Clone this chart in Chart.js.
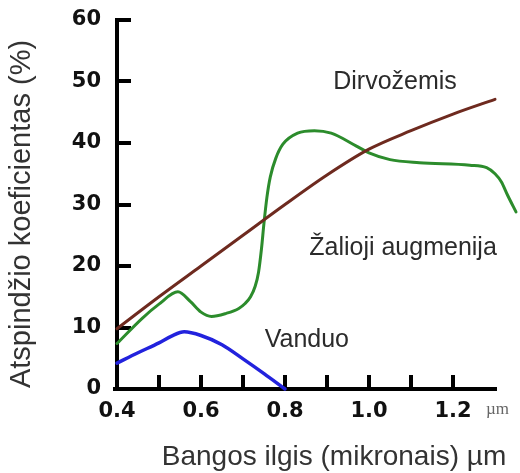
<!DOCTYPE html>
<html>
<head>
<meta charset="utf-8">
<script src="https://cdn.jsdelivr.net/npm/chart.js@4.4.1/dist/chart.umd.min.js"></script>
<style>
  html, body { margin: 0; padding: 0; background: #fff; }
  #wrap { width: 520px; height: 473px; }
</style>
</head>
<body>
<div id="wrap"><canvas id="chart" width="520" height="473"></canvas></div>
<script>
// wavelength (um) -> reflectance (%)
const soilX = [0.40, 0.50, 0.60, 0.70, 0.80, 0.90, 1.00, 1.10, 1.20, 1.30];
const soilY = [9.8, 15.0, 20.0, 25.0, 30.0, 34.8, 39.0, 42.0, 44.7, 47.1];

const vegX = [0.40, 0.46, 0.50, 0.545, 0.575, 0.60, 0.625, 0.66, 0.69, 0.705, 0.718, 0.729, 0.737, 0.744, 0.75, 0.757, 0.765, 0.778, 0.795, 0.83, 0.87, 0.91, 0.97, 1.00, 1.05, 1.12, 1.24, 1.28, 1.30, 1.315, 1.33, 1.35];
const vegY = [7.4, 11.5, 13.8, 15.8, 14.2, 12.5, 11.8, 12.3, 13.1, 13.9, 15.0, 16.7, 19.0, 22.8, 27.0, 31.2, 34.5, 37.5, 39.8, 41.6, 42.0, 41.6, 39.5, 38.4, 37.3, 36.8, 36.4, 36.0, 35.0, 33.7, 31.5, 28.8];

const waterX = [0.40, 0.45, 0.50, 0.53, 0.56, 0.60, 0.65, 0.70, 0.75, 0.80];
const waterY = [4.2, 5.9, 7.5, 8.6, 9.3, 8.7, 7.2, 4.9, 2.5, 0];

const seriesNames = ['Dirvožemis', 'Žalioji augmenija', 'Vanduo'];
const xTickLabels = ['0.4', '0.6', '0.8', '1.0', '1.2'];
const xAxisEnd = 1.3;
const xTitle = 'Bangos ilgis (mikronais) µm';
const yTitle = 'Atspindžio koeficientas (%)';

// where the curve names sit (data coords)
const nameX = [1.062, 1.081, 0.852];
const nameY = [49.9, 22.9, 8.0];

function toPoints(xs, ys) {
  return xs.map((x, i) => ({ x: x, y: ys[i] }));
}

// axis lines and inward tick marks
const axisTicks = {
  id: 'axisTicks',
  beforeDatasetsDraw(chart) {
    const { ctx, chartArea, scales } = chart;
    const x = scales.x, y = scales.y;
    const left = Math.round(chartArea.left);
    const bottom = Math.round(chartArea.bottom);
    const xEnd = Math.round(x.getPixelForValue(xAxisEnd));
    ctx.save();
    ctx.strokeStyle = '#000';
    ctx.lineWidth = 4;
    ctx.beginPath();
    ctx.moveTo(left, Math.round(chartArea.top) - 2);
    ctx.lineTo(left, bottom);
    ctx.moveTo(left - 4, bottom);
    ctx.lineTo(xEnd + 2, bottom);
    ctx.stroke();
    y.ticks.forEach(t => {
      if (t.value <= y.min) return;
      const py = Math.round(y.getPixelForValue(t.value));
      ctx.beginPath();
      ctx.moveTo(left, py);
      ctx.lineTo(left + 14, py);
      ctx.stroke();
    });
    x.ticks.forEach(t => {
      if (t.value <= x.min + 1e-6 || t.value > xAxisEnd + 1e-6) return;
      const px = Math.round(x.getPixelForValue(t.value));
      ctx.beginPath();
      ctx.moveTo(px, bottom);
      ctx.lineTo(px, bottom - 14);
      ctx.stroke();
    });
    ctx.restore();
  }
};

const textLayer = {
  id: 'textLayer',
  afterDraw(chart) {
    const { ctx, scales } = chart;
    ctx.save();
    ctx.fillStyle = '#2b2b2b';
    ctx.textAlign = 'center';
    ctx.textBaseline = 'middle';
    ctx.font = '25px "Liberation Sans", Arial, sans-serif';
    seriesNames.forEach((n, i) => {
      ctx.fillText(n, scales.x.getPixelForValue(nameX[i]), scales.y.getPixelForValue(nameY[i]));
    });

    ctx.fillStyle = '#333';
    ctx.font = '28px "Liberation Sans", Arial, sans-serif';
    ctx.fillText(xTitle, 334, 457);

    ctx.save();
    ctx.translate(22, 214);
    ctx.rotate(-Math.PI / 2);
    ctx.font = '29px "Liberation Sans", Arial, sans-serif';
    ctx.fillText(yTitle, 0, 0);
    ctx.restore();

    ctx.font = '17px "Liberation Serif", serif';
    ctx.fillStyle = '#666';
    ctx.textAlign = 'left';
    ctx.fillText('µm', 486, 410);
    ctx.restore();
  }
};

const ctx = document.getElementById('chart');

new Chart(ctx, {
  type: 'line',
  data: {
    datasets: [
      {
        label: seriesNames[0],
        data: toPoints(soilX, soilY),
        borderColor: '#6e2a1f',
        borderWidth: 3
      },
      {
        label: seriesNames[1],
        data: toPoints(vegX, vegY),
        borderColor: '#2c8c2c',
        borderWidth: 3
      },
      {
        label: seriesNames[2],
        data: toPoints(waterX, waterY),
        borderColor: '#2222dd',
        borderWidth: 3.5
      }
    ]
  },
  options: {
    responsive: false,
    animation: false,
    devicePixelRatio: 1,
    layout: {
      padding: { left: 0, top: 20, right: 4, bottom: 0 }
    },
    elements: {
      point: { radius: 0 },
      line: { cubicInterpolationMode: 'monotone', fill: false, borderCapStyle: 'round' }
    },
    datasets: {
      line: { clip: false }
    },
    scales: {
      x: {
        type: 'linear',
        min: 0.4,
        max: 1.35,
        afterFit(scale) {
          scale.height = 84;
          scale.paddingLeft = 0;
          scale.paddingRight = 0;
        },
        border: { display: false },
        grid: { display: false, drawTicks: false },
        ticks: {
          stepSize: 0.1,
          autoSkip: false,
          maxRotation: 0,
          padding: 10,
          color: '#111',
          font: { family: '"DejaVu Sans"', size: 21, weight: 'bold' },
          callback: v => {
            const s = Number(v).toFixed(1);
            return xTickLabels.includes(s) ? s : '';
          }
        }
      },
      y: {
        min: 0,
        max: 60,
        afterFit(scale) {
          scale.width = 117;
          scale.paddingTop = 0;
          scale.paddingBottom = 0;
        },
        border: { display: false },
        grid: { display: false, drawTicks: false },
        ticks: {
          stepSize: 10,
          padding: 16,
          color: '#111',
          font: { family: '"DejaVu Sans"', size: 21, weight: 'bold' }
        }
      }
    },
    plugins: {
      legend: { display: false },
      tooltip: { enabled: false }
    }
  },
  plugins: [axisTicks, textLayer]
});
</script>
</body>
</html>
